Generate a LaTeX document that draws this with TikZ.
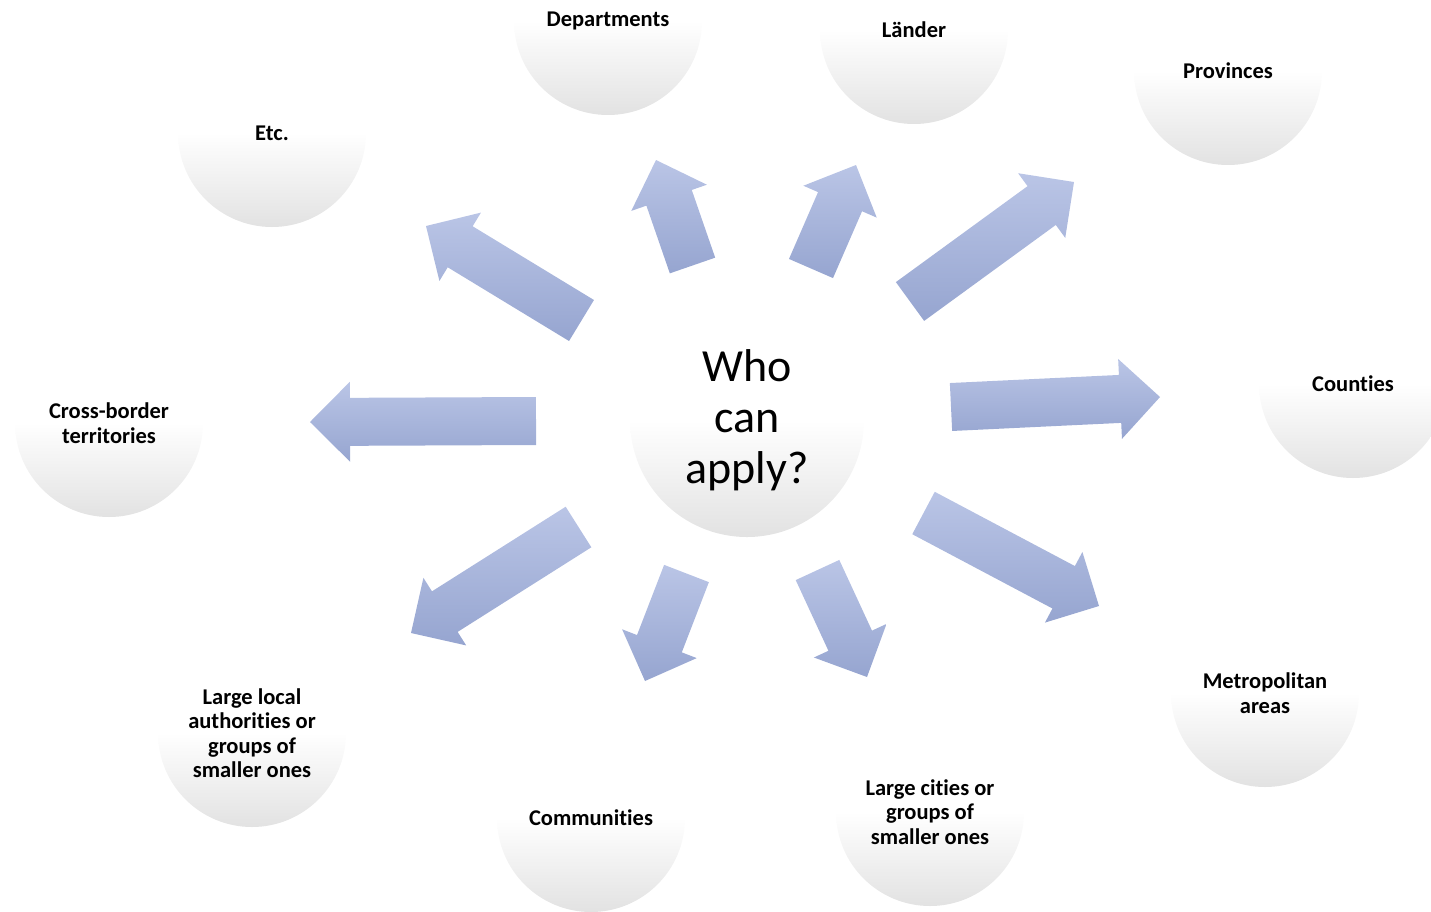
\documentclass[tikz,border=0pt]{standalone}
\usepackage{fontspec}
\setmainfont[Ligatures=NoCommon]{Carlito}
\usetikzlibrary{calc}
\definecolor{arrtop}{RGB}{186,197,230}
\definecolor{arrbot}{RGB}{150,165,208}
\definecolor{circbot}{RGB}{226,226,226}
\newcommand\blockarr[2]{%
  \coordinate (#1-b) at ($(#2)!40pt!(#1)$);
  \path[arrshade] ($(#1)!24pt!90:(#2)$) -- ($(#1-b)!24pt!90:(#2)$) -- ($(#1-b)!40pt!90:(#2)$) -- (#2)
    -- ($(#1-b)!40pt!-90:(#2)$) -- ($(#1-b)!24pt!-90:(#2)$) -- ($(#1)!24pt!-90:(#2)$) -- cycle;}
\tikzset{
  circ/.style={circle, inner sep=0pt, minimum size=188pt, top color=white, bottom color=circbot, middle color=white, draw=none,
    align=center, font=\fontsize{22.5}{24.5}\selectfont\bfseries, text=black},
  bigcirc/.style={circ, minimum size=234pt, font=\fontsize{46}{51}\selectfont},
  arrshade/.style={top color=arrtop, bottom color=arrbot, draw=none}
}
\begin{document}
\begin{tikzpicture}[x=1pt,y=-1pt]
\useasboundingbox (0,0) rectangle (1431,911);
\clip (0,0) rectangle (1431,911);
% circles
\node[bigcirc] (who) at (747,420) {Who\\can\\apply?};
\node[circ] (dep) at (608,21) {\raisebox{-5pt}{Departments}};
\node[circ] (lan) at (914,30) {Länder};
\node[circ] (pro) at (1228,71) {Provinces};
\node[circ] (etc) at (272,133) {Etc.};
\node[circ] (cou) at (1353,384) {Counties};
\node[circ] (cro) at (109,423) {Cross-border\\territories};
\node[circ] (met) at (1265,693) {Metropolitan\\areas};
\node[circ] (lci) at (930,812) {Large cities or\\groups of\\smaller ones};
\node[circ] (com) at (591,818) {Communities};
\node[circ] (llo) at (252,733) {Large local\\authorities or\\groups of\\smaller ones};
% arrow tails and tips
\coordinate (tcro) at (536,421);   \coordinate (pcro) at (310,422);
\coordinate (tetc) at (581.5,320.5); \coordinate (petc) at (426,226);
\coordinate (tdep) at (692.5,265.5); \coordinate (pdep) at (656,160);
\coordinate (tlan) at (811,268.5); \coordinate (plan) at (856,165);
\coordinate (tpro) at (910,301.5); \coordinate (ppro) at (1074,182);
\coordinate (tcou) at (951,407);   \coordinate (pcou) at (1160,397);
\coordinate (tmet) at (923.5,513); \coordinate (pmet) at (1099,606);
\coordinate (tlci) at (817.5,570); \coordinate (plci) at (867,677);
\coordinate (tcom) at (686.5,573.5); \coordinate (pcom) at (645,681);
\coordinate (tllo) at (578.5,527); \coordinate (pllo) at (411,633);
\blockarr{tcro}{pcro}
\blockarr{tetc}{petc}
\blockarr{tdep}{pdep}
\blockarr{tlan}{plan}
\blockarr{tpro}{ppro}
\blockarr{tcou}{pcou}
\blockarr{tmet}{pmet}
\blockarr{tlci}{plci}
\blockarr{tcom}{pcom}
\blockarr{tllo}{pllo}
\end{tikzpicture}
\end{document}
